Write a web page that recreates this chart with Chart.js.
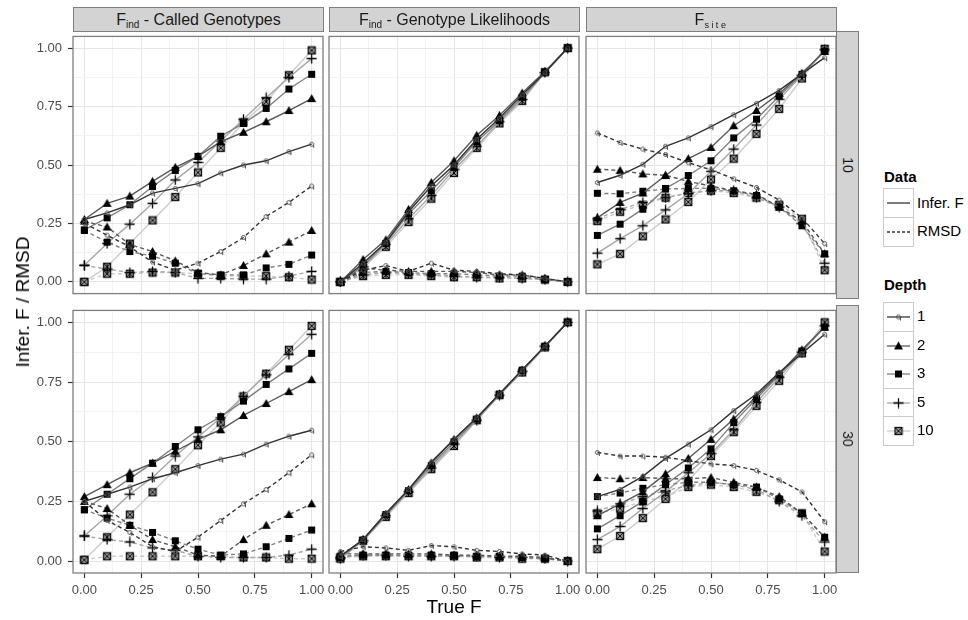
<!DOCTYPE html>
<html>
<head>
<meta charset="utf-8">
<script src="https://cdn.jsdelivr.net/npm/chart.js@4.4.1/dist/chart.umd.min.js"></script>
<style>
  body { margin: 0; background: #fff; font-family: "Liberation Sans", Arial, sans-serif; }
  #wrap { position: relative; width: 968px; height: 620px; overflow: hidden; }
  #wrap canvas { position: absolute; }
  .strip { position: absolute; box-sizing: border-box; background: #d3d3d3; border: 1px solid #7f7f7f;
           color: #1a1a1a; font-size: 16px; text-align: center; white-space: nowrap; }
  .strip sub { font-size: 10px; vertical-align: -3px; line-height: 0; }
  .rstrip span { position: absolute; left: 50%; top: 50%; transform: translate(-50%, -50%) rotate(90deg); }
  .ttl { position: absolute; color: #000; font-size: 19px; white-space: nowrap; }
  .leg { position: absolute; font-size: 15px; color: #000; white-space: nowrap; }
  .legt { font-weight: bold; }
  .key { position: absolute; box-sizing: border-box; border: 1px solid #cccccc; background: #fff; }
</style>
</head>
<body>
<div id="wrap"></div>
<script>
// x values shared by every series
const trueF = [0, 0.1, 0.2, 0.3, 0.4, 0.5, 0.6, 0.7, 0.8, 0.9, 1.0];
const depths = ['1', '2', '3', '5', '10'];
const rowLabels = ['10', '30'];

// rows of each array: depth 1, 2, 3, 5, 10
// F_ind - Called Genotypes, row "10"
const cg10Infer = [
  [0.267, 0.295, 0.33, 0.38, 0.40, 0.42, 0.466, 0.50, 0.518, 0.557, 0.589],
  [0.267, 0.336, 0.367, 0.43, 0.49, 0.537, 0.60, 0.64, 0.685, 0.733, 0.784],
  [0.223, 0.274, 0.33, 0.408, 0.477, 0.537, 0.623, 0.678, 0.742, 0.825, 0.888],
  [0.071, 0.164, 0.247, 0.336, 0.436, 0.511, 0.603, 0.696, 0.788, 0.874, 0.955],
  [0.0, 0.065, 0.164, 0.263, 0.363, 0.468, 0.573, 0.682, 0.77, 0.884, 0.99]
];
const cg10Rmsd = [
  [0.25, 0.20, 0.15, 0.085, 0.05, 0.08, 0.13, 0.19, 0.28, 0.34, 0.41],
  [0.26, 0.235, 0.16, 0.13, 0.09, 0.04, 0.03, 0.07, 0.12, 0.17, 0.22],
  [0.22, 0.17, 0.13, 0.11, 0.08, 0.035, 0.03, 0.03, 0.06, 0.075, 0.115],
  [0.071, 0.055, 0.04, 0.045, 0.04, 0.015, 0.015, 0.012, 0.012, 0.025, 0.045],
  [0.0, 0.035, 0.035, 0.04, 0.04, 0.035, 0.025, 0.025, 0.025, 0.02, 0.01]
];
// F_ind - Genotype Likelihoods, row "10"
const gl10Infer = [
  [0, 0.08, 0.17, 0.30, 0.41, 0.50, 0.61, 0.70, 0.80, 0.895, 1.0],
  [0, 0.096, 0.18, 0.31, 0.425, 0.518, 0.627, 0.712, 0.808, 0.9, 1.0],
  [0, 0.07, 0.165, 0.29, 0.39, 0.49, 0.60, 0.69, 0.79, 0.895, 1.0],
  [0, 0.065, 0.16, 0.27, 0.37, 0.48, 0.58, 0.685, 0.78, 0.895, 1.0],
  [0, 0.06, 0.15, 0.256, 0.356, 0.466, 0.573, 0.678, 0.774, 0.897, 1.0]
];
const gl10Rmsd = [
  [0, 0.05, 0.07, 0.045, 0.08, 0.05, 0.045, 0.035, 0.03, 0.015, 0],
  [0, 0.06, 0.05, 0.045, 0.045, 0.045, 0.04, 0.03, 0.03, 0.015, 0],
  [0, 0.04, 0.045, 0.04, 0.035, 0.035, 0.03, 0.025, 0.025, 0.01, 0],
  [0, 0.03, 0.04, 0.035, 0.03, 0.025, 0.02, 0.02, 0.015, 0.01, 0],
  [0, 0.025, 0.03, 0.03, 0.025, 0.02, 0.02, 0.015, 0.015, 0.01, 0]
];
// F_site, row "10"
const fs10Infer = [
  [0.425, 0.456, 0.503, 0.58, 0.616, 0.664, 0.715, 0.764, 0.819, 0.89, 0.959],
  [0.274, 0.34, 0.38, 0.455, 0.527, 0.575, 0.668, 0.733, 0.805, 0.893, 0.986],
  [0.199, 0.247, 0.311, 0.40, 0.455, 0.518, 0.616, 0.696, 0.795, 0.888, 0.986],
  [0.123, 0.185, 0.24, 0.308, 0.377, 0.473, 0.568, 0.671, 0.781, 0.884, 0.993],
  [0.075, 0.12, 0.195, 0.267, 0.342, 0.438, 0.527, 0.633, 0.74, 0.87, 0.997]
];
const fs10Rmsd = [
  [0.637, 0.596, 0.568, 0.545, 0.51, 0.479, 0.441, 0.404, 0.35, 0.274, 0.164],
  [0.482, 0.477, 0.462, 0.456, 0.43, 0.41, 0.39, 0.375, 0.32, 0.26, 0.12],
  [0.379, 0.377, 0.388, 0.397, 0.40, 0.40, 0.39, 0.37, 0.32, 0.24, 0.12],
  [0.27, 0.31, 0.34, 0.36, 0.38, 0.39, 0.39, 0.36, 0.32, 0.25, 0.08],
  [0.26, 0.30, 0.33, 0.36, 0.38, 0.39, 0.38, 0.36, 0.33, 0.27, 0.05]
];
// row "30"
const cg30Infer = [
  [0.25, 0.28, 0.31, 0.345, 0.37, 0.40, 0.427, 0.448, 0.49, 0.523, 0.548],
  [0.27, 0.32, 0.37, 0.41, 0.46, 0.51, 0.55, 0.61, 0.66, 0.71, 0.76],
  [0.215, 0.28, 0.345, 0.41, 0.48, 0.55, 0.605, 0.67, 0.74, 0.805, 0.87],
  [0.105, 0.19, 0.28, 0.35, 0.44, 0.52, 0.60, 0.69, 0.78, 0.865, 0.95],
  [0.005, 0.10, 0.195, 0.288, 0.385, 0.485, 0.58, 0.69, 0.785, 0.885, 0.985]
];
const cg30Rmsd = [
  [0.25, 0.17, 0.12, 0.06, 0.04, 0.10, 0.17, 0.24, 0.30, 0.37, 0.445],
  [0.25, 0.22, 0.15, 0.09, 0.06, 0.025, 0.02, 0.09, 0.15, 0.195, 0.24],
  [0.215, 0.18, 0.15, 0.12, 0.085, 0.05, 0.025, 0.03, 0.06, 0.095, 0.13],
  [0.105, 0.09, 0.08, 0.055, 0.045, 0.02, 0.015, 0.015, 0.015, 0.025, 0.05],
  [0.005, 0.02, 0.02, 0.02, 0.02, 0.02, 0.02, 0.015, 0.015, 0.01, 0.01]
];
const gl30Infer = [
  [0.02, 0.09, 0.20, 0.30, 0.415, 0.51, 0.60, 0.70, 0.80, 0.90, 1.0],
  [0.02, 0.09, 0.195, 0.30, 0.41, 0.51, 0.60, 0.70, 0.80, 0.90, 1.0],
  [0.015, 0.088, 0.195, 0.295, 0.40, 0.50, 0.595, 0.70, 0.80, 0.90, 1.0],
  [0.01, 0.085, 0.19, 0.29, 0.39, 0.49, 0.59, 0.695, 0.795, 0.90, 1.0],
  [0.01, 0.085, 0.185, 0.285, 0.385, 0.482, 0.59, 0.695, 0.79, 0.895, 1.0]
];
const gl30Rmsd = [
  [0.04, 0.06, 0.055, 0.045, 0.065, 0.06, 0.045, 0.04, 0.03, 0.025, 0.0],
  [0.03, 0.03, 0.03, 0.03, 0.03, 0.025, 0.025, 0.02, 0.02, 0.015, 0.0],
  [0.02, 0.025, 0.025, 0.025, 0.025, 0.025, 0.02, 0.02, 0.015, 0.01, 0.0],
  [0.015, 0.025, 0.025, 0.02, 0.02, 0.02, 0.02, 0.015, 0.015, 0.01, 0.0],
  [0.015, 0.02, 0.02, 0.02, 0.02, 0.02, 0.015, 0.015, 0.01, 0.01, 0.0]
];
const fs30Infer = [
  [0.27, 0.30, 0.355, 0.43, 0.49, 0.55, 0.63, 0.70, 0.79, 0.87, 0.95],
  [0.19, 0.24, 0.29, 0.365, 0.43, 0.51, 0.595, 0.69, 0.785, 0.885, 0.98],
  [0.135, 0.19, 0.25, 0.32, 0.39, 0.47, 0.58, 0.68, 0.78, 0.88, 0.98],
  [0.09, 0.145, 0.22, 0.29, 0.37, 0.45, 0.55, 0.665, 0.77, 0.875, 0.985],
  [0.05, 0.105, 0.18, 0.26, 0.335, 0.44, 0.54, 0.65, 0.755, 0.87, 1.0]
];
const fs30Rmsd = [
  [0.455, 0.44, 0.44, 0.435, 0.42, 0.407, 0.40, 0.38, 0.34, 0.29, 0.165],
  [0.35, 0.345, 0.35, 0.345, 0.345, 0.35, 0.33, 0.31, 0.27, 0.2, 0.1],
  [0.27, 0.285, 0.305, 0.32, 0.33, 0.33, 0.32, 0.31, 0.26, 0.2, 0.1],
  [0.21, 0.24, 0.27, 0.295, 0.315, 0.33, 0.32, 0.30, 0.25, 0.19, 0.08],
  [0.2, 0.22, 0.25, 0.27, 0.31, 0.32, 0.31, 0.29, 0.255, 0.2, 0.04]
];

const panels = [
  [[cg10Infer, cg10Rmsd], [gl10Infer, gl10Rmsd], [fs10Infer, fs10Rmsd]],
  [[cg30Infer, cg30Rmsd], [gl30Infer, gl30Rmsd], [fs30Infer, fs30Rmsd]]
];

const lineColors = ['#333333', '#595959', '#808080', '#a6a6a6', '#cccccc'];

// layout of the facet grid
const colLeft = [73, 329, 586], rowTop = [31, 305], pw = 250, ph = 268;
const wrap = document.getElementById('wrap');

Chart.defaults.font.family = '"Liberation Sans", Arial, sans-serif';

// point glyphs
function glyph(size, draw) {
  const c = document.createElement('canvas');
  c.width = c.height = size;
  draw(c.getContext('2d'), size / 2);
  return c;
}
const markers = [
  glyph(9, (g, m) => {
    g.strokeStyle = '#555'; g.lineWidth = 1;
    g.beginPath(); g.arc(m, m, 2, 0, Math.PI * 2); g.stroke();
    g.beginPath(); g.moveTo(m + 2, m); g.lineTo(m + 2, m + 3.5); g.stroke();
  }),
  glyph(11, (g, m) => {
    g.fillStyle = '#000';
    g.beginPath(); g.moveTo(m, m - 4.5); g.lineTo(m + 4.5, m + 3.5); g.lineTo(m - 4.5, m + 3.5); g.closePath(); g.fill();
  }),
  glyph(9, (g, m) => { g.fillStyle = '#000'; g.fillRect(m - 3.5, m - 3.5, 7, 7); }),
  glyph(11, (g, m) => {
    g.strokeStyle = '#000'; g.lineWidth = 1.3;
    g.beginPath(); g.moveTo(m - 5, m); g.lineTo(m + 5, m); g.moveTo(m, m - 5); g.lineTo(m, m + 5); g.stroke();
  }),
  glyph(10, (g, m) => {
    g.fillStyle = '#9a9a9a'; g.fillRect(m - 3.5, m - 3.5, 7, 7);
    g.strokeStyle = '#111'; g.lineWidth = 1.3; g.strokeRect(m - 3.5, m - 3.5, 7, 7);
    g.lineWidth = 1;
    g.beginPath(); g.moveTo(m - 3, m - 3); g.lineTo(m + 3, m + 3); g.moveTo(m + 3, m - 3); g.lineTo(m - 3, m + 3); g.stroke();
  })
];

const isMajor = v => Math.abs(v * 4 - Math.round(v * 4)) < 1e-6;
const gridTicks = [0, 0.125, 0.25, 0.375, 0.5, 0.625, 0.75, 0.875, 1];

const panelBorder = {
  id: 'panelBorder',
  afterDraw(chart) {
    const a = chart.chartArea, g = chart.ctx;
    g.save();
    g.strokeStyle = '#7f7f7f'; g.lineWidth = 1.3;
    g.strokeRect(a.left, a.top, a.right - a.left, a.bottom - a.top);
    g.restore();
  }
};

function makeAxis(showLabels, extent, horizontal) {
  return {
    type: 'linear', min: -0.05, max: 1.05,
    afterBuildTicks: s => { s.ticks = gridTicks.map(v => ({ value: v })); },
    afterFit: s => {
      if (horizontal) { s.height = extent; s.paddingLeft = 0; s.paddingRight = 0; }
      else { s.width = extent; s.paddingTop = 0; s.paddingBottom = 0; }
    },
    border: { display: false },
    grid: {
      color: c => isMajor(c.tick.value) ? '#e6e6e6' : '#f3f3f3',
      lineWidth: 1,
      drawTicks: showLabels,
      tickLength: 5,
      tickColor: c => isMajor(c.tick.value) ? '#333333' : 'rgba(0,0,0,0)',
      tickWidth: 1.2
    },
    ticks: {
      display: showLabels, autoSkip: false, maxRotation: 0,
      padding: horizontal ? 5 : 6,
      color: '#4d4d4d', font: { size: 13 },
      callback: v => isMajor(v) ? v.toFixed(2) : ''
    }
  };
}

function buildDatasets(pair) {
  const sets = [];
  for (let d = 0; d < depths.length; d++) {
    [0, 1].forEach(k => {
      sets.push({
        label: (k ? 'RMSD ' : 'Infer. F ') + depths[d],
        data: trueF.map((x, i) => ({ x: x, y: pair[k][d][i] })),
        borderColor: lineColors[d],
        borderWidth: 1.4,
        borderDash: k ? [4, 3] : [],
        pointStyle: markers[d],
        pointRadius: 4,
        pointHoverRadius: 4,
        fill: false,
        tension: 0
      });
    });
  }
  return sets;
}

for (let r = 0; r < 2; r++) {
  for (let c = 0; c < 3; c++) {
    const extraL = c === 0 ? 50 : 16, extraR = 16, extraB = r === 1 ? 40 : 0;
    const cv = document.createElement('canvas');
    cv.width = pw + extraL + extraR;
    cv.height = ph + extraB;
    cv.style.left = (colLeft[c] - extraL) + 'px';
    cv.style.top = rowTop[r] + 'px';
    wrap.appendChild(cv);
    new Chart(cv, {
      type: 'line',
      data: { datasets: buildDatasets(panels[r][c]) },
      options: {
        responsive: false, animation: false, events: [],
        layout: { padding: { left: c === 0 ? 0 : extraL, right: extraR, top: 0, bottom: 0 } },
        plugins: { legend: { display: false }, tooltip: { enabled: false } },
        scales: {
          x: makeAxis(r === 1, extraB, true),
          y: makeAxis(c === 0, c === 0 ? extraL : 0, false)
        }
      },
      plugins: [panelBorder]
    });
  }
}

// facet strips
const topStrips = ['F<sub>ind</sub> - Called Genotypes', 'F<sub>ind</sub> - Genotype Likelihoods',
  'F<sub style="font-size:9px;letter-spacing:2.5px">site</sub>'];
topStrips.forEach((t, c) => {
  const d = document.createElement('div');
  d.className = 'strip';
  d.style.cssText = `left:${colLeft[c]}px;top:7px;width:${pw + 1}px;height:25px;line-height:23px;`;
  d.innerHTML = t;
  wrap.appendChild(d);
});
rowLabels.forEach((t, r) => {
  const d = document.createElement('div');
  d.className = 'strip rstrip';
  d.style.cssText = `left:${colLeft[2] + pw}px;top:${rowTop[r]}px;width:23px;height:${ph}px;font-size:14px;`;
  d.innerHTML = `<span>${t}</span>`;
  wrap.appendChild(d);
});

// axis titles
const xt = document.createElement('div');
xt.className = 'ttl'; xt.textContent = 'True F';
xt.style.cssText = 'left:454px;top:607px;transform:translate(-50%,-50%);';
wrap.appendChild(xt);
const yt = document.createElement('div');
yt.className = 'ttl'; yt.textContent = 'Infer. F / RMSD';
yt.style.cssText = 'left:23px;top:302px;transform:translate(-50%,-50%) rotate(-90deg);';
wrap.appendChild(yt);

// legend
function legendText(txt, x, y, bold) {
  const d = document.createElement('div');
  d.className = 'leg' + (bold ? ' legt' : '');
  d.textContent = txt;
  d.style.left = x + 'px'; d.style.top = (y - 9) + 'px';
  wrap.appendChild(d);
}
function legendKey(y, color, dash, marker) {
  const k = document.createElement('canvas');
  k.width = 29; k.height = 28;
  k.className = 'key';
  k.style.left = '883px'; k.style.top = y + 'px';
  const g = k.getContext('2d');
  g.strokeStyle = color; g.lineWidth = 1.3; g.setLineDash(dash);
  g.beginPath(); g.moveTo(3, 14); g.lineTo(26, 14); g.stroke();
  if (marker) g.drawImage(marker, 14.5 - marker.width / 2, 14 - marker.height / 2);
  wrap.appendChild(k);
}
legendText('Data', 884, 177, true);
legendKey(188, '#333333', [], null);
legendText('Infer. F', 917, 203, false);
legendKey(217, '#333333', [3, 2], null);
legendText('RMSD', 917, 231, false);
legendText('Depth', 884, 285, true);
depths.forEach((dp, i) => {
  legendKey(302 + i * 28.5, lineColors[i], [], markers[i]);
  legendText(dp, 917, 316 + i * 28.5, false);
});
</script>
</body>
</html>
